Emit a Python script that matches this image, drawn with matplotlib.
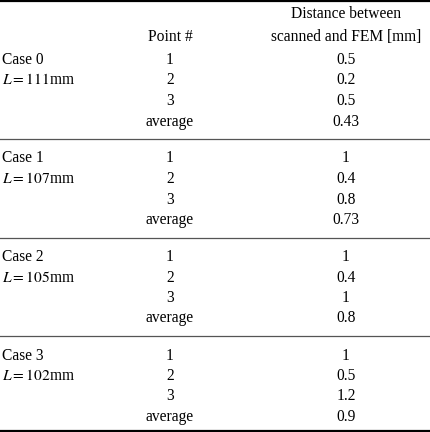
import matplotlib
matplotlib.use('Agg')
from matplotlib import pyplot as plt

plt.rcParams['font.family'] = 'Liberation Serif'
plt.rcParams['mathtext.fontset'] = 'stix'

cases = ['Case 0', 'Case 1', 'Case 2', 'Case 3']
lengths = [111, 107, 105, 102]
points = ['1', '2', '3', 'average']
distances = [
    ['0.5', '0.2', '0.5', '0.43'],
    ['1', '0.4', '0.8', '0.73'],
    ['1', '0.4', '1', '0.8'],
    ['1', '0.5', '1.2', '0.9'],
]

W, H = 431, 432
fig = plt.figure(figsize=(W / 100, H / 100), dpi=100)
ax = fig.add_axes([0, 0, 1, 1])
ax.set_xlim(0, W)
ax.set_ylim(H, 0)
ax.axis('off')

fs = 11.2
x_case, x_pt, x_dist = 2, 170, 346
row_h = 20.5
block_h = 98.5
first = 60

ax.axhline(1.2, color='black', lw=1.6)
ax.axhline(430.8, color='black', lw=1.6)
ax.text(x_pt, 37, 'Point #', ha='center', va='center', fontsize=fs)
ax.text(x_dist, 14, 'Distance between', ha='center', va='center', fontsize=fs)
ax.text(x_dist, 37, 'scanned and FEM [mm]', ha='center', va='center', fontsize=fs)

for i, case in enumerate(cases):
    y0 = first + i * block_h
    ax.text(x_case, y0, case, ha='left', va='center', fontsize=fs)
    ax.text(x_case, y0 + row_h, '$L = %d$mm' % lengths[i], ha='left', va='center', fontsize=fs)
    for j, p in enumerate(points):
        y = y0 + j * row_h
        ax.text(x_pt, y, p, ha='center', va='center', fontsize=fs)
        ax.text(x_dist, y, distances[i][j], ha='center', va='center', fontsize=fs)
    if i < len(cases) - 1:
        ax.axhline(y0 + 3 * row_h + (block_h - 3 * row_h) / 2 - 1, color='#555555', lw=0.9)

fig.savefig('out.png', dpi=100)
